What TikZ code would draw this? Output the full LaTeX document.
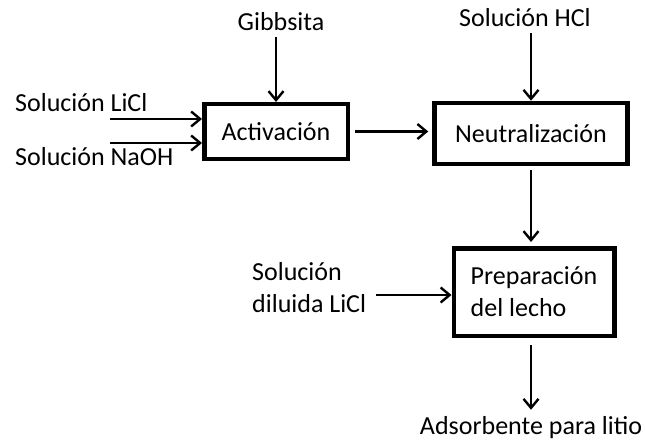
\documentclass[tikz,border=0pt]{standalone}
\usepackage{fontspec}
\setmainfont{Carlito}
\usetikzlibrary{arrows.meta}

\begin{document}
\begin{tikzpicture}[x=1pt,y=-1pt]
    \tikzstyle{every node}=[font=\fontsize{26}{32}\selectfont];
    \tikzstyle{box}=[draw,line width=4.5pt,align=left];
    \tikzstyle{lbl}=[inner sep=6pt,align=left];
    \tikzstyle{flow}=[line width=2.4pt,-{Straight Barb[length=9pt,width=15pt]}];
    \useasboundingbox (0,0) rectangle (645,441);
    %boxes
    \node[box,minimum width=143.5pt,minimum height=54.5pt] (act) at (276,131.5) {Activación};
    \node[box,minimum width=193pt,minimum height=61pt] (neut) at (531,133.5) {Neutralización};
    \node[box,minimum width=160.5pt,minimum height=87.5pt] (prep) at (534,292) {Preparación\\del lecho};
    %inputs and output
    \node[lbl,anchor=base] (gibb) at (281,31) {Gibbsita};
    \node[lbl,anchor=base] (hcl) at (525,27) {Solución HCl};
    \node[lbl,anchor=base west,inner sep=0pt] (licl) at (15,112) {Solución LiCl};
    \node[lbl,anchor=base west,inner sep=0pt] (naoh) at (15,165) {Solución NaOH};
    \node[lbl,anchor=base west,inner sep=0pt] (dil) at (252,312) {Solución\\diluida LiCl};
    \node[lbl,anchor=base] (ads) at (531,434) {Adsorbente para litio};
    \coordinate (liclin) at (110,119);
    \coordinate (naohin) at (110,143);
    \coordinate (dilin) at (376,295);
    \draw[flow] (liclin) -- (liclin -| act.west);
    \draw[flow] (naohin) -- (naohin -| act.west);
    \draw[flow] (gibb.south -| act.north) -- (act.north);
    \draw[flow] (hcl.south -| neut.north) -- (neut.north);
    \draw[flow] (dilin) -- (dilin -| prep.west);
    \draw[flow,shorten <=5pt,shorten >=4pt] (act.east |- act.center) -- (act.center -| neut.west);
    \draw[flow,shorten <=4pt,shorten >=4pt] (neut.south) -- (neut.south |- prep.north);
    \draw[flow,shorten <=7pt] (neut.south |- prep.south) -- (neut.south |- ads.north);
\end{tikzpicture}
\end{document}
